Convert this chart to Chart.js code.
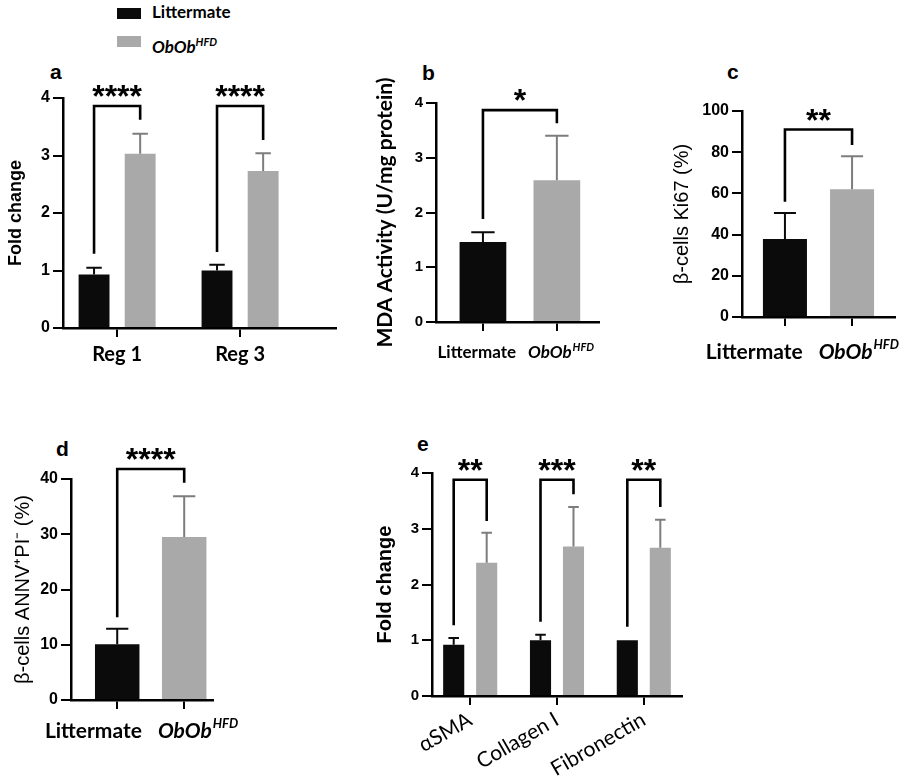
<!DOCTYPE html>
<html>
<head>
<meta charset="utf-8">
<script src="https://cdn.jsdelivr.net/npm/chart.js@4.4.1/dist/chart.umd.min.js"></script>
<style>
    body { margin: 0; width: 906px; height: 780px; position: relative; overflow: hidden; background: #fff; }
    canvas, .tag, .key, .swatch { position: absolute; }
    .tag { font: bold 21px "Liberation Sans", Arial, sans-serif; line-height: 1; color: #000; }
    .key { font: bold 17px Lato, sans-serif; line-height: 20px; color: #000; white-space: nowrap; }
    .key sup { font-size: 11px; }
    .swatch { width: 24px; height: 11px; }
</style>
</head>
<body>
<script>
// ---- data ----
const seriesNames = ['Littermate', 'ObOb^HFD'];
const seriesColors = ['#0b0b0b', '#a9a9a9'];
const errorColors = ['#0b0b0b', '#7d7d7d'];

// a: Reg genes (fold change)
const regGenes = ['Reg 1', 'Reg 3'];
const regLittermate = [0.93, 1.00];
const regLittermateSd = [0.12, 0.10];
const regObob = [3.03, 2.73];
const regObobSd = [0.35, 0.31];
const regBrackets = [[1.29, 3.86, 3.62], [1.32, 3.86, 3.27]];
const regStars = ['****', '****'];
const foldTicks = [0, 1, 2, 3, 4];

// b: MDA activity
const mdaMean = [1.46, 2.59];
const mdaSd = [0.18, 0.81];
const mdaBracket = [1.88, 3.87, 3.63];
const mdaStars = '*';
const mdaTicks = [0, 1, 2, 3, 4];

// c: Ki67
const ki67Mean = [37.9, 62.0];
const ki67Sd = [12.6, 16.0];
const ki67Bracket = [56, 91, 83.5];
const ki67Stars = '**';
const ki67Ticks = [0, 20, 40, 60, 80, 100];

// d: ANNV+ PI-
const annvMean = [10.1, 29.5];
const annvSd = [2.8, 7.4];
const annvBracket = [15, 41.8, 39.3];
const annvStars = '****';
const annvTicks = [0, 10, 20, 30, 40];

// e: fibrosis markers (fold change)
const fibroMarkers = ['αSMA', 'Collagen I', 'Fibronectin'];
const fibroLittermate = [0.92, 1.00, 1.00];
const fibroLittermateSd = [0.12, 0.10, 0];
const fibroObob = [2.39, 2.68, 2.66];
const fibroObobSd = [0.54, 0.71, 0.50];
const fibroBrackets = [[1.27, 3.88, 3.14], [1.33, 3.88, 3.62], [1.24, 3.88, 3.39]];
const fibroStars = ['**', '***', '**'];

// ---- plugins ----

// SD bars above each bar
const errorBarPlugin = {
    id: 'errorBars',
    afterDatasetsDraw(chart) {
        const ctx = chart.ctx;
        const yScale = chart.scales.y;
        chart.data.datasets.forEach((ds, di) => {
            if (!ds.errors) return;
            chart.getDatasetMeta(di).data.forEach((bar, i) => {
                const err = ds.errors[i];
                if (!err) return;
                const top = yScale.getPixelForValue(ds.data[i].y + err);
                const half = bar.width / 4;
                ctx.save();
                ctx.strokeStyle = Array.isArray(ds.errorColor) ? ds.errorColor[i] : ds.errorColor;
                ctx.lineWidth = 2;
                ctx.beginPath();
                ctx.moveTo(bar.x, bar.y);
                ctx.lineTo(bar.x, top);
                ctx.moveTo(bar.x - half, top);
                ctx.lineTo(bar.x + half, top);
                ctx.stroke();
                ctx.restore();
            });
        });
    }
};

// significance brackets with stars
const bracketPlugin = {
    id: 'brackets',
    afterDatasetsDraw(chart, args, opts) {
        const ctx = chart.ctx;
        const y = chart.scales.y;
        (opts.items || []).forEach(b => {
            const x1 = chart.getDatasetMeta(b.a[0]).data[b.a[1]].x;
            const x2 = chart.getDatasetMeta(b.b[0]).data[b.b[1]].x;
            const yTop = y.getPixelForValue(b.top);
            ctx.save();
            ctx.strokeStyle = '#000';
            ctx.lineWidth = 2.6;
            ctx.beginPath();
            ctx.moveTo(x1, y.getPixelForValue(b.from));
            ctx.lineTo(x1, yTop);
            ctx.lineTo(x2, yTop);
            ctx.lineTo(x2, y.getPixelForValue(b.to));
            ctx.stroke();
            ctx.fillStyle = '#000';
            ctx.font = 'bold ' + opts.starSize + 'px "Liberation Sans", Arial, sans-serif';
            ctx.textAlign = 'center';
            ctx.textBaseline = 'alphabetic';
            const m = ctx.measureText(b.label);
            const cy = yTop - opts.gap;
            ctx.fillText(b.label, (x1 + x2) / 2, cy + (m.actualBoundingBoxAscent - m.actualBoundingBoxDescent) / 2);
            ctx.restore();
        });
    }
};

// x labels with italic name and superscript ("ObOb^HFD"), pushed apart when they collide
const richTickPlugin = {
    id: 'richTicks',
    afterDraw(chart, args, opts) {
        if (!opts.labels) return;
        const ctx = chart.ctx;
        const xs = chart.scales.x;
        const y = xs.top + opts.offset;
        const supSize = Math.round(opts.size * 0.62);
        ctx.save();
        const items = opts.labels.map((lab, i) => {
            const parts = lab.split('^');
            const sup = parts[1];
            const baseFont = (sup ? 'italic ' : '') + 'bold ' + opts.size + 'px Lato, sans-serif';
            const supFont = 'italic bold ' + supSize + 'px Lato, sans-serif';
            ctx.font = baseFont;
            const w1 = ctx.measureText(parts[0]).width;
            let w2 = 0;
            if (sup) {
                ctx.font = supFont;
                w2 = ctx.measureText(sup).width + 1;
            }
            return { base: parts[0], sup, baseFont, supFont, w1, w: w1 + w2, cx: xs.getPixelForValue(i) };
        });
        for (let i = 1; i < items.length; i++) {
            const prev = items[i - 1];
            const cur = items[i];
            const overlap = prev.cx + prev.w / 2 + opts.gap - (cur.cx - cur.w / 2);
            if (overlap > 0) {
                prev.cx -= overlap / 2;
                cur.cx += overlap / 2;
            }
        }
        ctx.fillStyle = '#000';
        ctx.textBaseline = 'middle';
        ctx.textAlign = 'left';
        items.forEach(it => {
            const left = it.cx - it.w / 2 + (opts.shift || 0);
            ctx.font = it.baseFont;
            ctx.fillText(it.base, left, y);
            if (it.sup) {
                ctx.font = it.supFont;
                ctx.fillText(it.sup, left + it.w1 + 1, y - opts.size * 0.32);
            }
        });
        ctx.restore();
    }
};

// ---- helpers ----
function points(values) {
    return values.map((v, i) => ({ x: i, y: v }));
}

function richHtml(label) {
    const parts = label.split('^');
    return parts[1] ? '<i>' + parts[0] + '<sup>' + parts[1] + '</sup></i>' : label;
}

/**
 * Build one panel as its own canvas.
 * area = pixel box of the axes on the page.
 */
function buildPanel(p) {
    const PAD_TOP = 45;
    const padRight = p.padRight || 4;
    const left = Math.round(p.titleX - p.titleFont.size * 0.6);
    const top = p.area.top - PAD_TOP;
    const width = p.area.right - left + padRight;
    const height = p.area.bottom - top + p.xAxisHeight;
    const yAxisWidth = p.area.left - left;

    const canvas = document.createElement('canvas');
    canvas.width = width;
    canvas.height = height;
    canvas.style.left = left + 'px';
    canvas.style.top = top + 'px';
    canvas.style.width = width + 'px';
    canvas.style.height = height + 'px';
    document.body.appendChild(canvas);

    const yTicks = p.yTicks;
    const n = p.labels.length;

    return new Chart(canvas, {
        type: 'bar',
        data: { datasets: p.datasets },
        options: {
            responsive: false,
            animation: false,
            events: [],
            layout: { padding: { top: PAD_TOP, right: padRight, left: 0, bottom: 0 } },
            plugins: {
                legend: { display: false },
                tooltip: { enabled: false },
                brackets: { items: p.brackets, starSize: p.starSize, gap: 15 },
                richTicks: p.richLabels ? { labels: p.labels, size: p.richSize, offset: p.richOffset, gap: p.richGap || 16, shift: p.richShift } : {}
            },
            scales: {
                x: {
                    type: 'linear',
                    offset: false,
                    min: p.xMin,
                    max: p.xMax,
                    afterBuildTicks: s => { s.ticks = p.labels.map((_, i) => ({ value: i })); },
                    afterFit: s => { s.height = p.xAxisHeight; },
                    grid: { offset: false, drawOnChartArea: false, drawTicks: true, tickLength: 9, color: '#000', lineWidth: 2 },
                    border: { color: '#000', width: 2.5 },
                    ticks: p.richLabels ? { display: false } : {
                        display: true,
                        autoSkip: false,
                        color: '#000',
                        font: p.xFont,
                        padding: p.xPadding,
                        maxRotation: p.xRotation,
                        minRotation: p.xRotation,
                        callback: v => (Number.isInteger(v) && v < n ? p.labels[v] : '')
                    }
                },
                y: {
                    min: yTicks[0],
                    max: yTicks[yTicks.length - 1],
                    afterFit: s => { s.width = yAxisWidth; },
                    grid: { drawOnChartArea: false, drawTicks: true, tickLength: 10, color: '#000', lineWidth: 2 },
                    border: { color: '#000', width: 2.5 },
                    ticks: {
                        stepSize: yTicks[1] - yTicks[0],
                        color: '#000',
                        padding: 3,
                        font: { family: '"Liberation Sans", Arial, sans-serif', weight: 'bold', size: p.yTickSize }
                    },
                    title: { display: true, text: p.title, color: '#000', font: p.titleFont, padding: 0 }
                }
            }
        },
        plugins: [errorBarPlugin, bracketPlugin, richTickPlugin]
    });
}

function groupedDatasets(litter, litterSd, obob, obobSd, cp, bp) {
    return [
        { data: points(litter), errors: litterSd, errorColor: errorColors[0], backgroundColor: seriesColors[0], categoryPercentage: cp, barPercentage: bp },
        { data: points(obob), errors: obobSd, errorColor: errorColors[1], backgroundColor: seriesColors[1], categoryPercentage: cp, barPercentage: bp }
    ];
}

function pairDataset(mean, sd, cp, bp) {
    return [{ data: points(mean), errors: sd, errorColor: errorColors, backgroundColor: seriesColors, categoryPercentage: cp, barPercentage: bp }];
}

function groupedBrackets(spec, stars) {
    return spec.map((b, i) => ({ a: [0, i], b: [1, i], from: b[0], top: b[1], to: b[2], label: stars[i] }));
}

function pairBracket(b, stars) {
    return [{ a: [0, 0], b: [0, 1], from: b[0], top: b[1], to: b[2], label: stars }];
}

// ---- legend and panel letters ----
seriesNames.forEach((name, i) => {
    const sw = document.createElement('div');
    sw.className = 'swatch';
    sw.style.left = '117px';
    sw.style.top = (8 + i * 28) + 'px';
    sw.style.background = seriesColors[i];
    document.body.appendChild(sw);
    const key = document.createElement('div');
    key.className = 'key';
    key.style.left = '152px';
    key.style.top = (2 + i * 30) + 'px';
    key.innerHTML = richHtml(name);
    document.body.appendChild(key);
});

[['a', 50, 61], ['b', 422, 62], ['c', 727, 61], ['d', 56, 438], ['e', 417, 433]].forEach(([t, x, y]) => {
    const el = document.createElement('div');
    el.className = 'tag';
    el.textContent = t;
    el.style.left = x + 'px';
    el.style.top = y + 'px';
    document.body.appendChild(el);
});

// ---- panels ----
buildPanel({
    labels: regGenes,
    datasets: groupedDatasets(regLittermate, regLittermateSd, regObob, regObobSd, 0.75, 0.67),
    brackets: groupedBrackets(regBrackets, regStars),
    yTicks: foldTicks,
    area: { left: 63, right: 336, top: 98, bottom: 328 },
    xMin: -0.44, xMax: 1.78,
    xAxisHeight: 50,
    xFont: { family: 'Lato, sans-serif', weight: 'bold', size: 20 },
    xPadding: 6,
    xRotation: 0,
    yTickSize: 16,
    title: 'Fold change',
    titleX: 16,
    titleFont: { family: '"Liberation Sans", Arial, sans-serif', weight: 'bold', size: 18 },
    starSize: 32
});

buildPanel({
    labels: seriesNames,
    richLabels: true, richSize: 17, richOffset: 31, richShift: -1, richGap: 12,
    datasets: pairDataset(mdaMean, mdaSd, 0.8, 0.79),
    brackets: pairBracket(mdaBracket, mdaStars),
    yTicks: mdaTicks,
    area: { left: 436, right: 599, top: 103, bottom: 322 },
    xMin: -0.635, xMax: 1.57,
    xAxisHeight: 50,
    padRight: 10,
    yTickSize: 15,
    title: 'MDA Activity (U/mg protein)',
    titleX: 386,
    titleFont: { family: 'Lato, sans-serif', weight: 'bold', size: 21 },
    starSize: 32
});

buildPanel({
    labels: seriesNames,
    richLabels: true, richSize: 21, richOffset: 35, richShift: -12,
    datasets: pairDataset(ki67Mean, ki67Sd, 0.8, 0.82),
    brackets: pairBracket(ki67Bracket, ki67Stars),
    yTicks: ki67Ticks,
    area: { left: 742, right: 895, top: 111, bottom: 317 },
    xMin: -0.64, xMax: 1.64,
    xAxisHeight: 50,
    padRight: 11,
    yTickSize: 16,
    title: 'β-cells Ki67 (%)',
    titleX: 682,
    titleFont: { family: '"Liberation Sans", Arial, sans-serif', weight: 'normal', size: 20 },
    starSize: 32
});

buildPanel({
    labels: seriesNames,
    richLabels: true, richSize: 21, richOffset: 31, richShift: -5,
    datasets: pairDataset(annvMean, annvSd, 0.8, 0.83),
    brackets: pairBracket(annvBracket, annvStars),
    yTicks: annvTicks,
    area: { left: 71, right: 213, top: 479, bottom: 700 },
    xMin: -0.69, xMax: 1.43,
    xAxisHeight: 50,
    padRight: 36,
    yTickSize: 16,
    title: 'β-cells ANNV⁺PI⁻ (%)',
    titleX: 23,
    titleFont: { family: '"Liberation Sans", Arial, sans-serif', weight: 'normal', size: 20 },
    starSize: 32
});

buildPanel({
    labels: fibroMarkers,
    datasets: groupedDatasets(fibroLittermate, fibroLittermateSd, fibroObob, fibroObobSd, 0.76, 0.64),
    brackets: groupedBrackets(fibroBrackets, fibroStars),
    yTicks: foldTicks,
    area: { left: 432, right: 682, top: 473, bottom: 696 },
    xMin: -0.44, xMax: 2.44,
    xAxisHeight: 90,
    xFont: { family: 'Lato, sans-serif', weight: 'normal', size: 21 },
    xPadding: 2,
    xRotation: 30,
    yTickSize: 15,
    title: 'Fold change',
    titleX: 385,
    titleFont: { family: '"Liberation Sans", Arial, sans-serif', weight: 'bold', size: 20 },
    starSize: 32
});
</script>
</body>
</html>
